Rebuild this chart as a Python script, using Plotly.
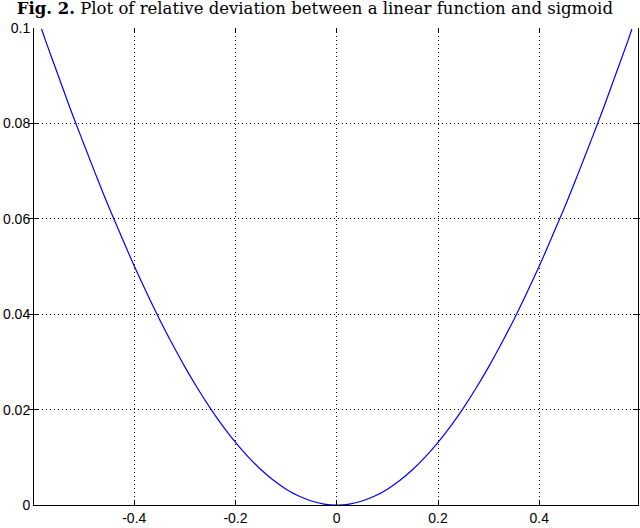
import plotly.graph_objects as go

# Values
x_pos = [0.025, 0.05, 0.075, 0.1, 0.125, 0.15, 0.175, 0.2, 0.225, 0.25, 0.275, 0.3,
         0.325, 0.35, 0.375, 0.4, 0.425, 0.45, 0.475, 0.5, 0.525, 0.55, 0.575, 0.583]
y_pos = [0.0002, 0.00083, 0.00187, 0.00332, 0.00518, 0.00743, 0.01009, 0.01312,
         0.01654, 0.02032, 0.02447, 0.02896, 0.03381, 0.03891, 0.0444, 0.0501,
         0.0562, 0.0624, 0.0690, 0.0758, 0.0827, 0.0900, 0.0973, 0.0998]

x_vals = [-v for v in reversed(x_pos)] + [0.0] + x_pos
y_vals = list(reversed(y_pos)) + [0.0] + y_pos

x_ticks = [-0.4, -0.2, 0, 0.2, 0.4]
x_tick_labels = ["-0.4", "-0.2", "0", "0.2", "0.4"]
y_ticks = [0, 0.02, 0.04, 0.06, 0.08, 0.1]
y_tick_labels = ["0", "0.02", "0.04", "0.06", "0.08", "0.1"]

x_range = [-0.598, 0.595]
y_range = [0, 0.1]

fig = go.Figure()
fig.add_trace(go.Scatter(x=x_vals, y=y_vals, mode="lines",
                         line=dict(color="#0000ff", width=1.2, shape="spline"),
                         showlegend=False, hoverinfo="skip"))
# invisible trace to activate top axis
fig.add_trace(go.Scatter(x=[x_range[0]], y=[0], xaxis="x2", mode="markers",
                         marker=dict(opacity=0), showlegend=False, hoverinfo="skip"))

tick_font = dict(family="Liberation Sans, Arial, sans-serif", size=14, color="black")
grid_dash = "1px,3px"

fig.update_layout(
    width=640, height=528,
    margin=dict(l=34, r=2, t=28, b=23),
    paper_bgcolor="white", plot_bgcolor="white",
    title=dict(text="<b>Fig. 2.</b> Plot of relative deviation between a linear function and sigmoid",
               font=dict(family="DejaVu Serif, serif", size=16.5, color="black"),
               x=0.465, xanchor="center", xref="paper",
               y=1 - 8 / 528, yanchor="middle", yref="container"),
    xaxis=dict(range=x_range, tickvals=x_ticks, ticktext=x_tick_labels,
               showgrid=True, gridcolor="black", griddash=grid_dash, gridwidth=1,
               zeroline=False, showline=True, linecolor="black", linewidth=1,
               ticks="inside", ticklen=5, tickcolor="black", tickfont=tick_font),
    xaxis2=dict(range=x_range, tickvals=x_ticks, overlaying="x", side="top",
                showgrid=False, zeroline=False, showline=False, showticklabels=False,
                ticks="inside", ticklen=5, tickcolor="black"),
    yaxis=dict(range=y_range, tickvals=y_ticks, ticktext=y_tick_labels,
               showgrid=True, gridcolor="black", griddash=grid_dash, gridwidth=1,
               zeroline=False, showline=True, linecolor="black", linewidth=1,
               mirror="allticks", ticks="inside", ticklen=5, tickcolor="black",
               tickfont=tick_font),
)

fig.write_html("out.html", config={"displayModeBar": False},
               post_script="document.body.style.margin='0';")
